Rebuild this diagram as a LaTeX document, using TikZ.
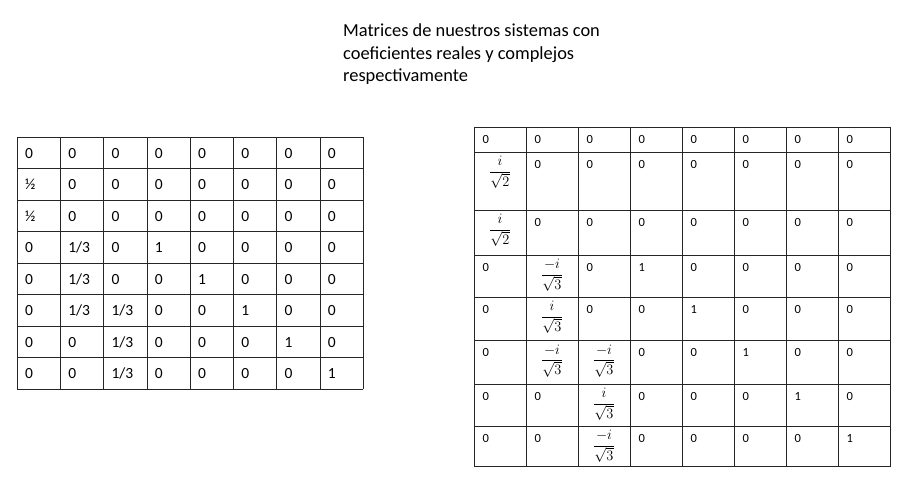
\documentclass[tikz,border=0pt]{standalone}
\usepackage{fontspec}
\setmainfont{Carlito}

\tikzset{
  gridline/.style={line width=0.8pt, draw=black!85},
  realcell/.style={anchor=base west, inner sep=0pt, font=\fontsize{15.5}{18}\selectfont},
  cplxcell/.style={anchor=base west, inner sep=0pt, font=\fontsize{12.5}{14}\selectfont},
  cplxfrac/.style={anchor=north, inner sep=0pt, font=\fontsize{14}{16}\selectfont},
  titletxt/.style={anchor=north west, inner sep=0pt, align=left, font=\fontsize{18.4}{22.5}\selectfont},
}

\begin{document}
\begin{tikzpicture}[x=1pt,y=-1pt]
\useasboundingbox (0,0) rectangle (923,503);
\fill[white] (0,0) rectangle (923,503);

% title
\node[titletxt] (title) at (343,24) {Matrices de nuestros sistemas con\\coeficientes reales y complejos\\respectivamente};

% real matrix, left
\foreach \i in {0,...,8} {
  \draw[gridline] ({17.3+\i*43.25},137.3) -- ({17.3+\i*43.25},389.3);
  \draw[gridline] (17.3,{137.3+\i*31.5}) -- (363.3,{137.3+\i*31.5});
}
\foreach \r/\row in {1/{0,0,0,0,0,0,0,0},
                     2/{½,0,0,0,0,0,0,0},
                     3/{½,0,0,0,0,0,0,0},
                     4/{0,1/3,0,1,0,0,0,0},
                     5/{0,1/3,0,0,1,0,0,0},
                     6/{0,1/3,1/3,0,0,1,0,0},
                     7/{0,0,1/3,0,0,0,1,0},
                     8/{0,0,1/3,0,0,0,0,1}} {
  \foreach \v [count=\c] in \row
    \node[realcell] (R\r-\c) at ({17.3+(\c-1)*43.25+7.5},{137.3+(\r-1)*31.5+21}) {\v};
}

% complex matrix, right
\def\rowtops{{127,152,210,255,297.3,340.7,384,426,466.7}}
\foreach \i in {0,...,8} {
  \pgfmathsetmacro\yy{\rowtops[\i]}
  \draw[gridline] ({474+\i*52},127) -- ({474+\i*52},466.7);
  \draw[gridline] (474,\yy) -- (890,\yy);
}
\def\nocell{x}
\foreach \r/\row in {1/{0,0,0,0,0,0,0,0},
                     2/{x,0,0,0,0,0,0,0},
                     3/{x,0,0,0,0,0,0,0},
                     4/{0,x,0,1,0,0,0,0},
                     5/{0,x,0,0,1,0,0,0},
                     6/{0,x,x,0,0,1,0,0},
                     7/{0,0,x,0,0,0,1,0},
                     8/{0,0,x,0,0,0,0,1}} {
  \pgfmathsetmacro\yy{\rowtops[\r-1]}
  \foreach \v [count=\c] in \row {
    \ifx\v\nocell\else
      \node[cplxcell] (C\r-\c) at ({474+(\c-1)*52+8.5},{\yy+16}) {\v};
    \fi
  }
}
\foreach \r/\c/\num/\den in {2/1/i/2, 3/1/i/2, 4/2/-i/3, 5/2/i/3,
                             6/2/-i/3, 6/3/-i/3, 7/3/i/3, 8/3/-i/3} {
  \pgfmathsetmacro\yy{\rowtops[\r-1]}
  \node[cplxfrac] (C\r-\c) at ({474+(\c-0.5)*52},{\yy+4}) {$\displaystyle\frac{\num}{\sqrt{\den}}$};
}
\end{tikzpicture}
\end{document}
